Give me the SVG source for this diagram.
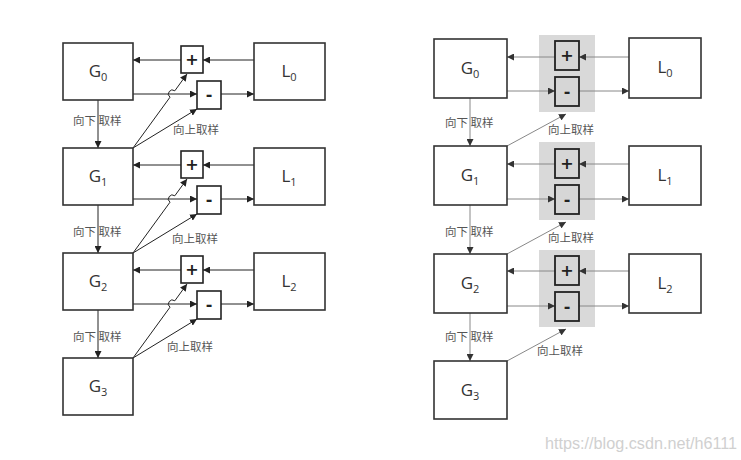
<svg xmlns="http://www.w3.org/2000/svg" width="741" height="460" viewBox="0 0 741 460">
<style>
.box{fill:#fff;stroke:#333;stroke-width:1.6}
.op{fill:#fff;stroke:#222;stroke-width:1.6}
.opg{fill:#d6d6d6;stroke:#222;stroke-width:1.8}
.panel{fill:#d9d9d9;stroke:none}
.ln{fill:none;stroke:#222;stroke-width:1}
.lng{fill:none;stroke:#888;stroke-width:1}
.lbl{font-family:"Open Sans","DejaVu Sans",sans-serif;font-size:17px;fill:#333;text-anchor:middle}
.sub{font-size:11px}
.sym{font-family:"DejaVu Sans",sans-serif;font-size:16px;font-weight:bold;fill:#222;text-anchor:middle}
.cn{font-family:"Noto Sans CJK SC",sans-serif;font-size:11.5px;fill:#555}
.wm{font-family:"Liberation Sans",sans-serif;font-size:16px;fill:#d0d0d0}
</style>
<defs>
<marker id="a" viewBox="0 0 8 8" refX="8" refY="4" markerWidth="7" markerHeight="7" markerUnits="userSpaceOnUse" orient="auto"><path d="M0,0 L8,4 L0,8 z" fill="#222"/></marker>
<marker id="ag" viewBox="0 0 8 8" refX="8" refY="4" markerWidth="7" markerHeight="7" markerUnits="userSpaceOnUse" orient="auto"><path d="M0,0 L8,4 L0,8 z" fill="#333"/></marker>
</defs>
<rect width="741" height="460" fill="#fff"/>

<!-- LEFT DIAGRAM -->
<g id="connectors-left">
<path class="ln" d="M254,60 H203" marker-end="url(#a)"/>
<path class="ln" d="M181,60 H133" marker-end="url(#a)"/>
<path class="ln" d="M133,94 H197" marker-end="url(#a)"/>
<path class="ln" d="M221,94 H254" marker-end="url(#a)"/>
<path class="ln" d="M98,100 V148" marker-end="url(#a)"/>
<path class="ln" d="M133,148 L170,97.2 A4,4 0 0 1 174.8,90.8 L187,74" marker-end="url(#a)"/>
<path class="ln" d="M133,148 L197,109" marker-end="url(#a)"/>

<path class="ln" d="M254,165 H203" marker-end="url(#a)"/>
<path class="ln" d="M181,165 H133" marker-end="url(#a)"/>
<path class="ln" d="M133,199 H197" marker-end="url(#a)"/>
<path class="ln" d="M221,199 H254" marker-end="url(#a)"/>
<path class="ln" d="M98,205 V253" marker-end="url(#a)"/>
<path class="ln" d="M133,253 L170,202.2 A4,4 0 0 1 174.8,195.8 L187,179" marker-end="url(#a)"/>
<path class="ln" d="M133,253 L197,214" marker-end="url(#a)"/>

<path class="ln" d="M254,270 H203" marker-end="url(#a)"/>
<path class="ln" d="M181,270 H133" marker-end="url(#a)"/>
<path class="ln" d="M133,304 H197" marker-end="url(#a)"/>
<path class="ln" d="M221,304 H254" marker-end="url(#a)"/>
<path class="ln" d="M98,310 V358" marker-end="url(#a)"/>
<path class="ln" d="M133,358 L170,307.2 A4,4 0 0 1 174.8,300.8 L187,284" marker-end="url(#a)"/>
<path class="ln" d="M133,358 L197,319" marker-end="url(#a)"/>
</g>

<g id="lG0"><rect class="box" x="63" y="43" width="70" height="57"/><text class="lbl" x="98" y="77">G<tspan class="sub" dy="4">0</tspan></text></g>
<g id="lG1"><rect class="box" x="63" y="148" width="70" height="57"/><text class="lbl" x="98" y="182">G<tspan class="sub" dy="4">1</tspan></text></g>
<g id="lG2"><rect class="box" x="63" y="253" width="70" height="57"/><text class="lbl" x="98" y="287">G<tspan class="sub" dy="4">2</tspan></text></g>
<g id="lG3"><rect class="box" x="63" y="358" width="70" height="57"/><text class="lbl" x="98" y="392">G<tspan class="sub" dy="4">3</tspan></text></g>

<g id="lL0"><rect class="box" x="254" y="43" width="71" height="57"/><text class="lbl" x="289" y="77">L<tspan class="sub" dy="4">0</tspan></text></g>
<g id="lL1"><rect class="box" x="254" y="148" width="71" height="57"/><text class="lbl" x="289" y="182">L<tspan class="sub" dy="4">1</tspan></text></g>
<g id="lL2"><rect class="box" x="254" y="253" width="71" height="57"/><text class="lbl" x="289" y="287">L<tspan class="sub" dy="4">2</tspan></text></g>

<g id="lplus0"><rect class="op" x="181" y="46" width="22" height="27"/><text class="sym" x="192" y="65">+</text></g>
<g id="lminus0"><rect class="op" x="197" y="81" width="24" height="28"/><text class="sym" x="209" y="100">-</text></g>
<g id="lplus1"><rect class="op" x="181" y="151" width="22" height="27"/><text class="sym" x="192" y="170">+</text></g>
<g id="lminus1"><rect class="op" x="197" y="186" width="24" height="28"/><text class="sym" x="209" y="205">-</text></g>
<g id="lplus2"><rect class="op" x="181" y="256" width="22" height="27"/><text class="sym" x="192" y="275">+</text></g>
<g id="lminus2"><rect class="op" x="197" y="291" width="24" height="28"/><text class="sym" x="209" y="310">-</text></g>

<text class="cn" x="73" y="125">向下 取样</text>
<text class="cn" x="173" y="134">向上取样</text>
<text class="cn" x="73" y="236">向下 取样</text>
<text class="cn" x="172" y="243">向上取样</text>
<text class="cn" x="73" y="341">向下 取样</text>
<text class="cn" x="167" y="351">向上取样</text>

<!-- RIGHT DIAGRAM -->
<g id="rpanel0"><rect class="panel" x="539" y="35" width="56" height="77"/></g>
<g id="rpanel1"><rect class="panel" x="539" y="142" width="56" height="78"/></g>
<g id="rpanel2"><rect class="panel" x="539" y="250" width="56" height="77"/></g>

<g id="connectors-right">
<path class="lng" d="M629,57 H579" marker-end="url(#ag)"/>
<path class="lng" d="M555,57 H507" marker-end="url(#ag)"/>
<path class="lng" d="M507,91 H555" marker-end="url(#ag)"/>
<path class="lng" d="M579,91 H629" marker-end="url(#ag)"/>
<path class="lng" d="M470,98 V146" marker-end="url(#ag)"/>
<path class="lng" d="M507,146 L566,114" marker-end="url(#ag)"/>

<path class="lng" d="M629,164 H579" marker-end="url(#ag)"/>
<path class="lng" d="M555,164 H507" marker-end="url(#ag)"/>
<path class="lng" d="M507,199 H555" marker-end="url(#ag)"/>
<path class="lng" d="M579,199 H629" marker-end="url(#ag)"/>
<path class="lng" d="M470,205 V254" marker-end="url(#ag)"/>
<path class="lng" d="M507,254 L566,222" marker-end="url(#ag)"/>

<path class="lng" d="M629,271 H579" marker-end="url(#ag)"/>
<path class="lng" d="M555,271 H507" marker-end="url(#ag)"/>
<path class="lng" d="M507,306 H555" marker-end="url(#ag)"/>
<path class="lng" d="M579,306 H629" marker-end="url(#ag)"/>
<path class="lng" d="M470,313 V361" marker-end="url(#ag)"/>
<path class="lng" d="M507,361 L566,329" marker-end="url(#ag)"/>
</g>

<g id="rG0"><rect class="box" x="434" y="39" width="73" height="59"/><text class="lbl" x="470" y="74">G<tspan class="sub" dy="4">0</tspan></text></g>
<g id="rG1"><rect class="box" x="434" y="146" width="73" height="59"/><text class="lbl" x="470" y="181">G<tspan class="sub" dy="4">1</tspan></text></g>
<g id="rG2"><rect class="box" x="434" y="254" width="73" height="59"/><text class="lbl" x="470" y="289">G<tspan class="sub" dy="4">2</tspan></text></g>
<g id="rG3"><rect class="box" x="434" y="361" width="73" height="58"/><text class="lbl" x="470" y="396">G<tspan class="sub" dy="4">3</tspan></text></g>

<g id="rL0"><rect class="box" x="629" y="38" width="72" height="60"/><text class="lbl" x="665" y="73">L<tspan class="sub" dy="4">0</tspan></text></g>
<g id="rL1"><rect class="box" x="629" y="146" width="72" height="59"/><text class="lbl" x="665" y="181">L<tspan class="sub" dy="4">1</tspan></text></g>
<g id="rL2"><rect class="box" x="629" y="254" width="72" height="59"/><text class="lbl" x="665" y="289">L<tspan class="sub" dy="4">2</tspan></text></g>

<g id="rplus0"><rect class="opg" x="555" y="41" width="24" height="29"/><text class="sym" x="567" y="61">+</text></g>
<g id="rminus0"><rect class="opg" x="555" y="77" width="24" height="29"/><text class="sym" x="567" y="97">-</text></g>
<g id="rplus1"><rect class="opg" x="555" y="149" width="24" height="29"/><text class="sym" x="567" y="169">+</text></g>
<g id="rminus1"><rect class="opg" x="555" y="185" width="24" height="29"/><text class="sym" x="567" y="205">-</text></g>
<g id="rplus2"><rect class="opg" x="555" y="256" width="24" height="29"/><text class="sym" x="567" y="276">+</text></g>
<g id="rminus2"><rect class="opg" x="555" y="292" width="24" height="29"/><text class="sym" x="567" y="312">-</text></g>

<text class="cn" x="445" y="127">向下 取样</text>
<text class="cn" x="548" y="134">向上取样</text>
<text class="cn" x="445" y="236">向下 取样</text>
<text class="cn" x="548" y="242">向上取样</text>
<text class="cn" x="445" y="341">向下 取样</text>
<text class="cn" x="537" y="355">向上取样</text>

<text class="wm" x="545" y="449" textLength="192" lengthAdjust="spacingAndGlyphs">https://blog.csdn.net/h6111</text>
</svg>
